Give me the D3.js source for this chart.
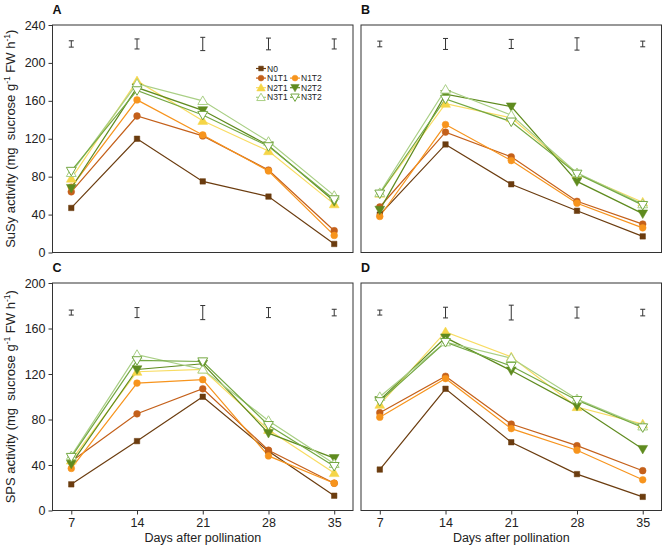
<!DOCTYPE html>
<html>
<head>
<meta charset="utf-8">
<script src="https://cdn.jsdelivr.net/npm/d3@7"></script>
<style>
  body { margin: 0; background: #fff; }
  svg { font-family: "Liberation Sans", Arial, sans-serif; }
  .axis text { font-size: 12.5px; fill: #222; }
  .axis line { stroke: #333; }
</style>
</head>
<body>
<div id="chart"></div>
<script>
// Days and treatments
const days = [7, 14, 21, 28, 35];
const treatments = ["N0", "N1T1", "N1T2", "N2T1", "N2T2", "N3T1", "N3T2"];

// SuSy activity, one row per treatment (same order as treatments)
const susyA = [
  [47, 120, 75, 59, 9],
  [64, 144, 123, 87, 23],
  [69, 161, 124, 86, 18],
  [78, 181, 139, 107, 51],
  [68, 174, 150, 113, 54],
  [84, 178, 160, 117, 60],
  [86, 171, 145, 112, 56]
];
const susyB = [
  [40, 114, 72, 44, 17],
  [48, 127, 101, 54, 30],
  [38, 135, 97, 52, 26],
  [62, 157, 142, 83, 53],
  [45, 167, 154, 75, 41],
  [63, 172, 145, 84, 51],
  [62, 162, 138, 83, 50]
];
// SPS activity
const spsC = [
  [23, 61, 100, 52, 13],
  [43, 85, 107, 53, 24],
  [37, 112, 115, 48, 24],
  [44, 122, 124, 71, 33],
  [41, 124, 129, 68, 46],
  [48, 137, 124, 79, 41],
  [47, 132, 131, 75, 39]
];
const spsD = [
  [36, 107, 60, 32, 12],
  [86, 118, 76, 57, 35],
  [82, 116, 72, 53, 27],
  [93, 157, 135, 91, 76],
  [97, 152, 123, 92, 54],
  [100, 148, 134, 98, 74],
  [96, 148, 127, 97, 73]
];

// LSD bars (full length) per day
const lsdA = [6.7, 10.6, 14, 12.4, 10.6];
const lsdB = [6, 11.6, 9.6, 13, 6];
const lsdC = [4.4, 8.8, 12.4, 8.8, 5.8];
const lsdD = [4.4, 9.4, 13, 9.6, 5.8];
const lsdCenters = [220, 220, 174, 174];

const susyTicks = [0, 40, 80, 120, 160, 200, 240];
const spsTicks = [0, 40, 80, 120, 160, 200];
const panelLabels = ["A", "B", "C", "D"];

// Styles per treatment
const colors = ["#6b3c0f", "#c4601a", "#f7941d", "#f5d547", "#5f8b1f", "#a9cf85", "#74a843"];
const lineColors = ["#6b3c0f", "#c4601a", "#f7941d", "#f8dc62", "#5f8b1f", "#a9cf85", "#74a843"];
const shapes = ["square", "circle", "circle", "up", "down", "up", "down"];
const hollow = [false, false, false, false, false, true, true];

const width = 662, height = 545;
const pw = 300.5, ph = 227.5;

const svg = d3.select("#chart")
  .append("svg")
    .attr("width", width)
    .attr("height", height);

const symbolPath = (shape, small) => {
  const k = small ? 0.75 : 1;
  if (shape === "square") return d3.symbol(d3.symbolSquare, 30 * k)();
  if (shape === "circle") return d3.symbol(d3.symbolCircle, 36 * k)();
  return d3.symbol(d3.symbolTriangle, 42 * k)();
};

const drawMarker = (g, i, x, y, small) => {
  g.append("path")
    .attr("d", symbolPath(shapes[i], small))
    .attr("transform", `translate(${x},${y})` + (shapes[i] === "down" ? " rotate(180)" : "") + (shapes[i] === "up" || shapes[i] === "down" ? " translate(0,0.8)" : ""))
    .attr("fill", hollow[i] ? "#fff" : colors[i])
    .attr("stroke", colors[i])
    .attr("stroke-width", hollow[i] ? 1 : 0.5);
};

const panels = [
  { vals: susyA, lsd: lsdA, ticks: susyTicks, left: 52.5, top: 25, yTitle: "SuSy activity", showY: true, showX: false },
  { vals: susyB, lsd: lsdB, ticks: susyTicks, left: 361, top: 25, showY: false, showX: false },
  { vals: spsC, lsd: lsdC, ticks: spsTicks, left: 52.5, top: 283, yTitle: "SPS activity", showY: true, showX: true },
  { vals: spsD, lsd: lsdD, ticks: spsTicks, left: 361, top: 283, showY: false, showX: true }
];

panels.forEach((p, pi) => {
  const xScale = d3.scaleLinear().domain([5, 37]).range([0, pw]);
  const yScale = d3.scaleLinear().domain([0, d3.max(p.ticks)]).range([ph, 0]);

  const chart = svg.append("g")
    .attr("transform", `translate(${p.left}, ${p.top})`);

  // panel letter
  svg.append("text")
    .attr("x", p.left)
    .attr("y", p.top - 11)
    .text(panelLabels[pi])
    .style("font-size", "12.5px")
    .style("font-weight", "bold")
    .attr("fill", "#111");

  if (p.showY) {
    chart.append("g")
      .attr("class", "axis")
      .call(d3.axisLeft(yScale).tickValues(p.ticks).tickSize(4).tickPadding(3))
      .call(g => g.select(".domain").remove());

    // y title with superscripts
    const t = svg.append("text")
      .attr("transform", `translate(15, ${p.top + ph / 2}) rotate(-90)`)
      .attr("text-anchor", "middle")
      .attr("fill", "#222")
      .style("font-size", "13px");
    t.append("tspan").text(p.yTitle + " (mg\u00a0 sucrose g");
    t.append("tspan").text("-1").attr("dy", -5).style("font-size", "8.5px");
    t.append("tspan").text(" FW h").attr("dy", 5);
    t.append("tspan").text("-1").attr("dy", -5).style("font-size", "8.5px");
    t.append("tspan").text(")").attr("dy", 5);
  }

  if (p.showX) {
    chart.append("g")
      .attr("class", "axis")
      .attr("transform", `translate(0, ${ph})`)
      .call(d3.axisBottom(xScale).tickValues(days).tickSize(4).tickPadding(4))
      .call(g => g.select(".domain").remove());

    chart.append("text")
      .attr("x", pw / 2)
      .attr("y", ph + 31)
      .attr("text-anchor", "middle")
      .attr("fill", "#222")
      .style("font-size", "12.5px")
      .text("Days after pollination");
  }

  // frame
  chart.append("rect")
    .attr("width", pw)
    .attr("height", ph)
    .attr("fill", "none")
    .attr("stroke", "#333")
    .attr("stroke-width", 1);

  // LSD bars
  const mid = lsdCenters[pi];
  days.forEach((d, di) => {
    const x = xScale(d);
    const y0 = yScale(mid - p.lsd[di] / 2);
    const y1 = yScale(mid + p.lsd[di] / 2);
    const eb = chart.append("g")
      .attr("stroke", "#333")
      .attr("stroke-width", 1);
    eb.append("line").attr("x1", x).attr("x2", x).attr("y1", y0).attr("y2", y1);
    eb.append("line").attr("x1", x - 2.5).attr("x2", x + 2.5).attr("y1", y0).attr("y2", y0);
    eb.append("line").attr("x1", x - 2.5).attr("x2", x + 2.5).attr("y1", y1).attr("y2", y1);
  });

  // lines then markers
  const lineGenerator = d3.line()
    .x((v, k) => xScale(days[k]))
    .y(v => yScale(v));

  treatments.forEach((tr, i) => {
    chart.append("path")
      .attr("d", lineGenerator(p.vals[i]))
      .attr("fill", "none")
      .attr("stroke", lineColors[i])
      .attr("stroke-width", 1.2);
  });
  treatments.forEach((tr, i) => {
    p.vals[i].forEach((v, k) => drawMarker(chart, i, xScale(days[k]), yScale(v)));
  });
});

// Legend inside panel A
const legend = svg.append("g");
const legendRows = [[0], [1, 2], [3, 4], [5, 6]];
legendRows.forEach((row, r) => {
  row.forEach((i, c) => {
    const lx = 256 + c * 34;
    const ly = 68.5 + r * 9.6;
    legend.append("line")
      .attr("x1", lx).attr("x2", lx + 10)
      .attr("y1", ly).attr("y2", ly)
      .attr("stroke", lineColors[i])
      .attr("stroke-width", 1.2);
    drawMarker(legend, i, lx + 5, ly, true);
    legend.append("text")
      .attr("x", lx + 11)
      .attr("y", ly + 3)
      .attr("fill", "#222")
      .style("font-size", "8.5px")
      .text(treatments[i]);
  });
});
</script>
</body>
</html>
